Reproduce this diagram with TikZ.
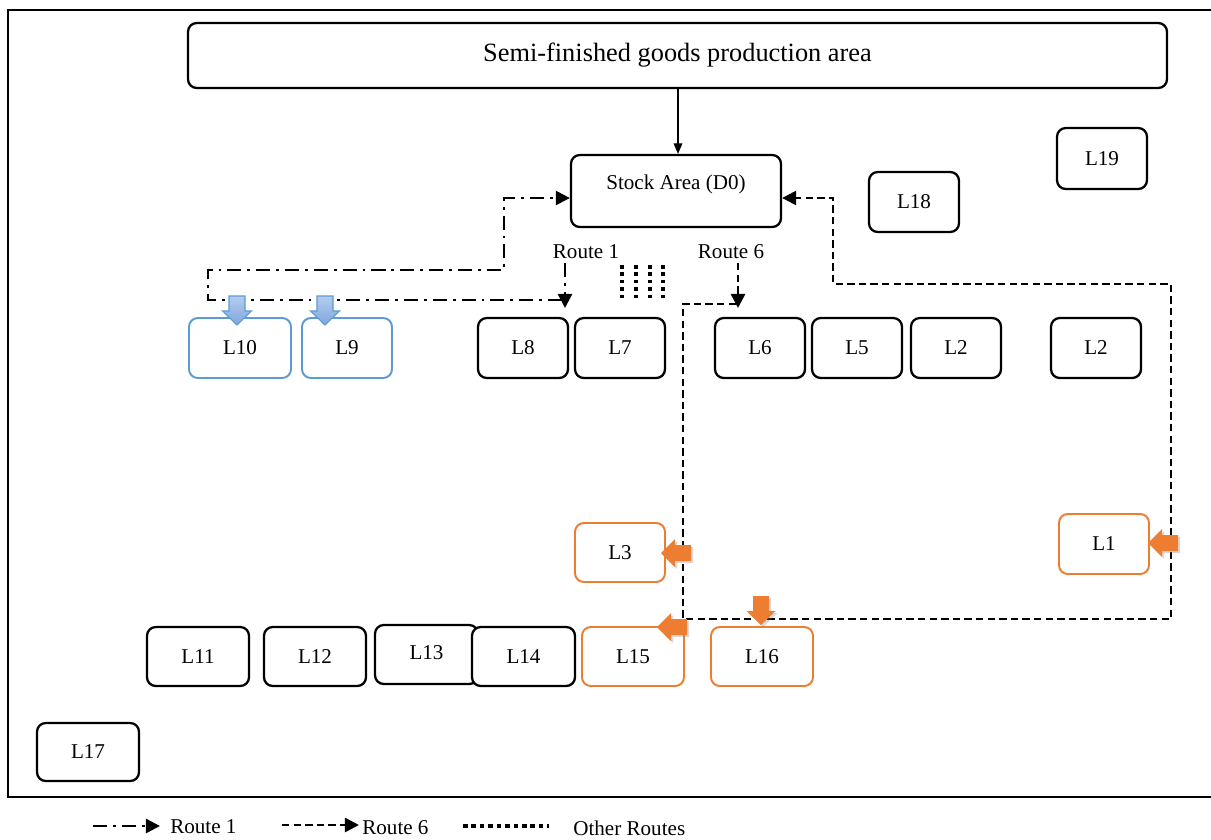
\documentclass[tikz,border=0pt]{standalone}
\usepackage{fontspec}
\setmainfont{Liberation Serif}
\usetikzlibrary{arrows.meta,shadows,fit}
\definecolor{orng}{HTML}{ED7D31}
\definecolor{blu}{HTML}{5B9BD5}
\definecolor{blutop}{HTML}{B4CDEE}
\definecolor{blubot}{HTML}{7EA6DC}
\tikzset{
  lbox/.style={draw=black, line width=1.3pt, rounded corners=5pt, inner sep=0pt, fill=white},
  obox/.style={lbox, draw=orng, line width=1.1pt},
  bbox/.style={lbox, draw=blu, line width=1.1pt},
  rone/.style={line width=1.4pt, dash pattern=on 8pt off 3.4pt on 1.6pt off 3.4pt},
  rsix/.style={line width=1.4pt, dash pattern=on 4.2pt off 2.4pt},
  rother/.style={line width=1.8pt, dash pattern=on 2pt off 2.2pt},
  tip/.style={-{Triangle[length=8pt,width=8pt]}},
  oarrow/.style={fill=orng, draw=none, drop shadow={opacity=0.3, shadow xshift=1.2pt, shadow yshift=-1.2pt}},
  barrow/.style={draw=blu, line width=0.6pt, top color=blutop, bottom color=blubot},
  pics/leftblk/.style={code={\path[#1] (0,0) -- (14,-14) -- (14,-8) -- (30,-8) -- (30,8) -- (14,8) -- (14,14) -- cycle;}},
  pics/downblk/.style={code={\path[#1] (0,0) -- (-14.5,-14) -- (-8,-14) -- (-8,-29) -- (8,-29) -- (8,-14) -- (14.5,-14) -- cycle;}},
}
\begin{document}
\begin{tikzpicture}[x=0.02cm,y=-0.02cm, font=\fontsize{12}{14}\selectfont]
\clip (0,0) rectangle (1211,839);
\fill[white] (0,0) rectangle (1211,839);
\draw[line width=1.3pt] (8,10) rectangle (1240,797);

% top boxes
\node[lbox, fit={(188,23)(1167,88)}, label={[font=\fontsize{15}{18}\selectfont]center:Semi-finished goods production area}] (prod) {};
\node[lbox, fit={(571,155)(781,227)}] (D0) {};
\node (D0t) at (676,184) {Stock Area (D0)};
\draw[line width=0.6pt, -{Triangle[length=6pt,width=5pt]}] (prod.south -| 678,0) -- (D0.north -| 678,0);

\node[lbox, fit={(1057,128)(1147,189)}, label=center:L19] (L19) {};
\node[lbox, fit={(869,172)(959,232)}, label=center:L18] (L18) {};

% routes
\coordinate (r1a) at (562,300);
\coordinate (r1b) at (208,300);
\coordinate (r1c) at (208,270);
\coordinate (r1d) at (504,270);
\coordinate (r1e) at (504,198);
\draw[rone,tip] (r1a) -- (r1b) -- (r1c) -- (r1d) -- (r1e) -- (D0.west |- r1e);
\node (r1l) at (586,252) {Route 1};
\coordinate (r1s) at (565,263);
\coordinate (r1t) at (565,308);
\draw[rone,tip] (r1s) -- (r1t);

\coordinate (r6a) at (736,304);
\coordinate (r6b) at (683,304);
\coordinate (r6c) at (683,619);
\coordinate (r6d) at (1171,619);
\coordinate (r6e) at (1171,284);
\coordinate (r6f) at (833,284);
\coordinate (r6g) at (833,198);
\draw[rsix,tip] (r6a) -- (r6b) -- (r6c) -- (r6d) -- (r6e) -- (r6f) -- (r6g) -- (D0.east |- r6g);
\node (r6l) at (731,252) {Route 6};
\coordinate (r6s) at (738,263);
\coordinate (r6t) at (738,308);
\draw[rsix,tip] (r6s) -- (r6t);

% other routes
\foreach \i/\xx in {1/622,2/636,3/650,4/663}{
  \coordinate (o\i a) at (\xx,265);
  \coordinate (o\i b) at (\xx,298);
  \draw[rother] (o\i a) -- (o\i b);
}

% row 1
\node[bbox, fit={(189,318)(291,378)}, label=center:L10] (L10) {};
\node[bbox, fit={(302,318)(392,378)}, label=center:L9] (L9) {};
\node[lbox, fit={(478,318)(568,378)}, label=center:L8] (L8) {};
\node[lbox, fit={(575,318)(665,378)}, label=center:L7] (L7) {};
\node[lbox, fit={(715,318)(805,378)}, label=center:L6] (L6) {};
\node[lbox, fit={(812,318)(902,378)}, label=center:L5] (L5) {};
\node[lbox, fit={(911,318)(1001,378)}, label=center:L2] (L2a) {};
\node[lbox, fit={(1051,318)(1141,378)}, label=center:L2] (L2b) {};

% middle
\node[obox, fit={(575,523)(665,582)}, label=center:L3] (L3) {};
\node[obox, fit={(1059,514)(1149,574)}, label=center:L1] (L1) {};

% row 3
\node[lbox, fit={(147,627)(249,686)}, label=center:L11] (L11) {};
\node[lbox, fit={(264,627)(366,686)}, label=center:L12] (L12) {};
\node[lbox, fit={(375,625)(478,684)}, label={[yshift=1pt]center:L13}] (L13) {};
\node[lbox, fit={(472,627)(575,686)}, label=center:L14] (L14) {};
\node[obox, fit={(582,627)(684,686)}, label=center:L15] (L15) {};
\node[obox, fit={(711,627)(813,686)}, label=center:L16] (L16) {};
\node[lbox, fit={(37,723)(139,781)}, label=center:L17] (L17) {};

% block arrows
\pic at (237,325) {downblk=barrow};
\pic at (325,325) {downblk=barrow};
\pic at (661,553) {leftblk=oarrow};
\pic at (657,627) {leftblk=oarrow};
\pic at (1148,543) {leftblk=oarrow};
\pic at (761,625) {downblk=oarrow};

% legend
\coordinate (g1a) at (93,826);
\coordinate (g1b) at (160,826);
\draw[rone,tip] (g1a) -- (g1b);
\node[anchor=west, inner sep=0pt] (g1t) at (170,827) {Route 1};
\coordinate (g6a) at (282,825);
\coordinate (g6b) at (359,825);
\draw[rsix,tip] (g6a) -- (g6b);
\node[anchor=west, inner sep=0pt] (g6t) at (362,828) {Route 6};
\coordinate (goa) at (463,826);
\coordinate (gob) at (549,826);
\draw[line width=1.8pt, dash pattern=on 2.6pt off 2.2pt] (goa) -- (gob);
\node[anchor=west, inner sep=0pt] (got) at (573,828) {Other Routes};
\end{tikzpicture}
\end{document}
